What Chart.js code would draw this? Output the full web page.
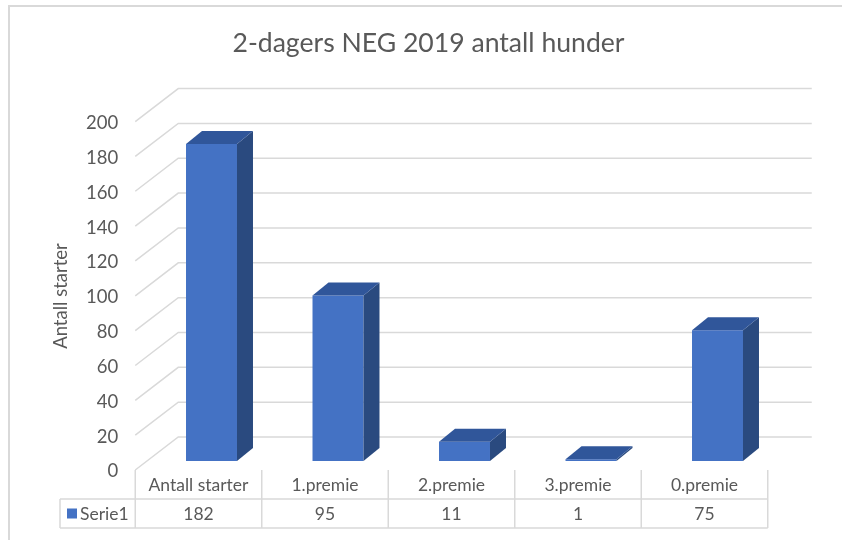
<!DOCTYPE html>
<html>
<head>
<meta charset="utf-8">
<script src="https://cdn.jsdelivr.net/npm/chart.js@4"></script>
<style>
  html, body { margin: 0; padding: 0; background: #fff; }
  canvas { display: block; }
</style>
</head>
<body>
<canvas id="chart" width="842" height="540"></canvas>
<script>
// data
const categories = ['Antall starter', '1.premie', '2.premie', '3.premie', '0.premie'];
const serie1 = [182, 95, 11, 1, 75];
const seriesLabel = 'Serie1';
const chartTitle = '2-dagers NEG 2019 antall hunder';
const yTitle = 'Antall starter';
const yMin = 0, yMax = 200, yStep = 20;

const FONT = 'Lato, "Open Sans", sans-serif';
const TEXT = '#595959';
const LINE = '#d9d9d9';

// 3D look: depth offsets
const DEPTH = { dx: 16, dy: 13 };      // bar depth
const WALL = { back: 24, front: 9, dx: 43 };

const threeD = {
  id: 'threeD',
  beforeDatasetsDraw(chart) {
    const { ctx, chartArea: a, scales: { y } } = chart;
    ctx.save();
    ctx.strokeStyle = LINE;
    ctx.lineWidth = 1.5;
    const backX = a.left - 13 + WALL.dx;
    for (let v = yMin; v <= yMax; v += yStep) {
      const py = y.getPixelForValue(v);
      ctx.beginPath();
      ctx.moveTo(a.left - 13, py + WALL.front);
      ctx.lineTo(backX, py - WALL.back);
      ctx.lineTo(a.right + 31, py - WALL.back);
      ctx.stroke();
    }
    ctx.restore();
  },
  afterDatasetsDraw(chart) {
    const { ctx } = chart;
    const meta = chart.getDatasetMeta(0);
    ctx.save();
    meta.data.forEach(bar => {
      const { x, y, base, width } = bar.getProps(['x', 'y', 'base', 'width'], true);
      const l = x - width / 2, r = x + width / 2;
      // side
      ctx.fillStyle = '#2a4a7f';
      ctx.beginPath();
      ctx.moveTo(r, y);
      ctx.lineTo(r + DEPTH.dx, y - DEPTH.dy);
      ctx.lineTo(r + DEPTH.dx, base - DEPTH.dy);
      ctx.lineTo(r, base);
      ctx.closePath();
      ctx.fill();
      // top
      ctx.fillStyle = '#30569a';
      ctx.beginPath();
      ctx.moveTo(l, y);
      ctx.lineTo(l + DEPTH.dx, y - DEPTH.dy);
      ctx.lineTo(r + DEPTH.dx, y - DEPTH.dy);
      ctx.lineTo(r, y);
      ctx.closePath();
      ctx.fill();
    });
    ctx.restore();
  },
  afterDraw(chart) {
    const { ctx, chartArea: a, scales: { x } } = chart;
    ctx.save();
    // outer frame (cut off right and bottom)
    ctx.strokeStyle = LINE;
    ctx.lineWidth = 2;
    ctx.beginPath();
    ctx.moveTo(9, 540);
    ctx.lineTo(9, 6);
    ctx.lineTo(842, 6);
    ctx.stroke();

    // title
    ctx.fillStyle = TEXT;
    ctx.textAlign = 'center';
    ctx.textBaseline = 'middle';
    ctx.font = '26.6px ' + FONT;
    ctx.fillText(chartTitle, 428.5, 43);

    // y axis title
    ctx.save();
    ctx.translate(61, 296);
    ctx.rotate(-Math.PI / 2);
    ctx.font = '18.5px ' + FONT;
    ctx.fillText(yTitle, 0, 0);
    ctx.restore();

    // data table
    const colW = (a.right - a.left) / categories.length;
    const top = a.bottom + WALL.front;
    const mid = top + 29, bot = top + 58;
    const left0 = x.getPixelForValue(0) - 13 - colW / 2;
    const right0 = left0 + colW * categories.length;
    ctx.strokeStyle = LINE;
    ctx.lineWidth = 1.5;
    ctx.beginPath();
    for (let i = 0; i <= categories.length; i++) {
      const cx = left0 + colW * i;
      ctx.moveTo(cx, top);
      ctx.lineTo(cx, bot);
    }
    ctx.moveTo(60, mid); ctx.lineTo(right0, mid);
    ctx.moveTo(60, bot); ctx.lineTo(right0, bot);
    ctx.moveTo(60, mid); ctx.lineTo(60, bot);
    ctx.stroke();

    ctx.font = '17.5px ' + FONT;
    ctx.fillStyle = TEXT;
    categories.forEach((c, i) => {
      const cx = x.getPixelForValue(i) - 13;
      ctx.fillText(c, cx, (top + mid) / 2 + 1);
      ctx.fillText(String(serie1[i]), cx, (mid + bot) / 2 + 1);
    });
    // legend key
    ctx.fillStyle = '#4472c4';
    ctx.fillRect(67, (mid + bot) / 2 - 5, 10, 10);
    ctx.fillStyle = TEXT;
    ctx.textAlign = 'left';
    ctx.fillText(seriesLabel, 80, (mid + bot) / 2 + 1);
    ctx.restore();
  }
};

new Chart(document.getElementById('chart'), {
  type: 'bar',
  data: {
    labels: categories,
    datasets: [{
      label: seriesLabel,
      data: serie1,
      backgroundColor: '#4472c4',
      borderWidth: 0,
      categoryPercentage: 1,
      barPercentage: 0.403
    }]
  },
  options: {
    responsive: false,
    animation: false,
    devicePixelRatio: 1,
    layout: { padding: { left: 0, top: 112.6, right: 61.25, bottom: 79 } },
    plugins: { legend: { display: false }, tooltip: { enabled: false }, title: { display: false } },
    scales: {
      x: { display: false },
      y: {
        min: yMin, max: yMax,
        afterFit(scale) { scale.width = 148.25; },
        grid: { display: false, drawTicks: false },
        border: { display: false },
        ticks: {
          stepSize: yStep,
          padding: 30,
          labelOffset: 10.5,
          color: TEXT,
          font: { family: FONT, size: 18.5 }
        }
      }
    }
  },
  plugins: [threeD]
});
</script>
</body>
</html>
